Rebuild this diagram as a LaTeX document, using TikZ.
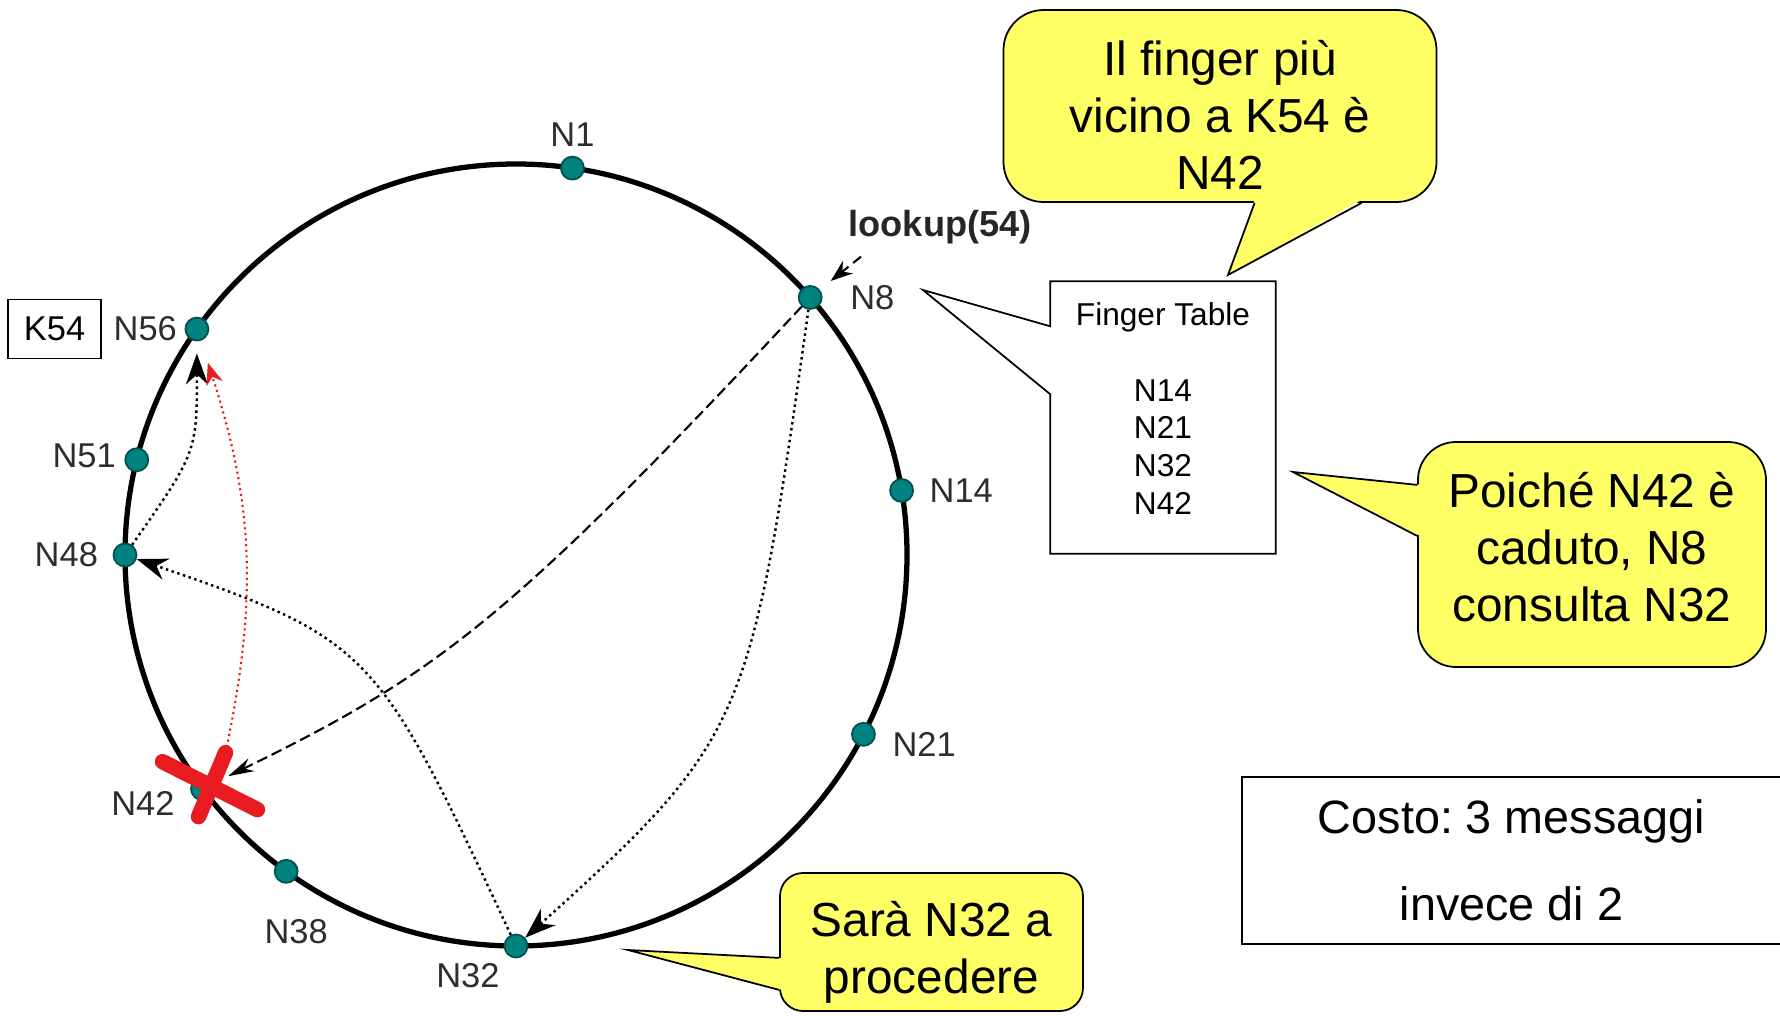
\documentclass[tikz,border=0pt]{standalone}
\usepackage{fontspec}
\setmainfont{Liberation Sans}
\frenchspacing
\usetikzlibrary{arrows.meta,positioning,calc}
\definecolor{verdeacqua}{RGB}{0,130,128}
\definecolor{verdescuro}{RGB}{0,80,78}
\definecolor{giallo}{RGB}{255,255,102}
\definecolor{rosso}{RGB}{232,28,32}
\definecolor{grigio}{RGB}{45,45,45}

\begin{document}
\begin{tikzpicture}[>={Stealth[length=3.1mm,width=2.2mm]},
    peer/.style={circle,fill=verdeacqua,draw=verdescuro,line width=0.5pt,inner sep=0pt,minimum size=2.3mm},
    etich/.style={font=\fontsize{9.8}{11}\selectfont,text=grigio,inner sep=0pt},
    fumetto/.style={draw=black,line width=0.5pt,fill=giallo,inner sep=0pt},
    testo/.style={align=center,font=\fontsize{13.6}{16.2}\selectfont,inner sep=0pt},
    salto/.style={densely dotted,line width=0.7pt,->}]
  \useasboundingbox (0,0) rectangle (17.8,10.15);
  % anello
  \coordinate (c) at (5.16,4.60);
  \draw[line width=1.5pt] (c) circle (3.91);
  \foreach \id/\a in {1/81.7,8/41.2,14/9.5,21/-27.3,32/-90,38/-126,42/-143.3,48/180,51/165.9,56/144.7}
    \node[peer] (n\id) at ($(c)+(\a:3.91)$) {};
  \node[etich,above=0.9mm of n1] (l1) {N1};
  \node[etich,right=2.7mm of n8] (l8) {N8};
  \node[etich,right=1.5mm of n14] (l14) {N14};
  \node[etich,right=1.6mm of n21,yshift=-1mm] (l21) {N21};
  \node[etich,below left=0.8mm and 0.7mm of n32] (l32) {N32};
  \node[etich,below=3.5mm of n38,xshift=1mm] (l38) {N38};
  \node[etich,left=1.5mm of n42,yshift=-1.5mm] (l42) {N42};
  \node[etich,left=1.4mm of n48] (l48) {N48};
  \node[etich,left=0.8mm of n51,yshift=0.4mm] (l51) {N51};
  \node[etich,left=0.7mm of n56] (l56) {N56};
  \node[etich,draw=black,line width=0.5pt,text=black,minimum width=9.3mm,minimum height=5.9mm,left=1.1mm of l56] (k54) {K54};
  \node[etich,font=\bfseries\fontsize{10.3}{12}\selectfont,text=black!85,above right=4.4mm and 2.9mm of n8] (look) {lookup(54)};
  \coordinate (lookda) at ([shift={(1.3mm,-1.2mm)}]look.south west);
  \draw[line width=0.6pt,dash pattern=on 1mm off 0.6mm,->,>={Stealth[length=2.2mm,width=1.6mm]},shorten >=1.4mm] (lookda) -- (n8);
  % salti della lookup
  \draw[line width=0.6pt,dash pattern=on 1.1mm off 0.5mm,->,>={Stealth[length=2.6mm,width=1.4mm]},shorten >=1.6mm] (n8) .. controls +(227:4.4) and +(26:2.6) .. (n42);
  \draw[salto] (n8) .. controls +(262:4.3) and +(42:3.1) .. (n32);
  \draw[salto] (n32) .. controls +(115:3.3) and +(-19:2.6) .. (n48);
  \draw[salto,shorten >=1.2mm] (n48) .. controls +(55:1.25) and +(-90:1.23) .. (n56);
  % N42 caduto
  \coordinate (xa1) at ($(n42)+(-0.40,0.27)$);
  \coordinate (xa2) at ($(n42)+(0.55,-0.21)$);
  \coordinate (xb1) at ($(n42)+(0.23,0.36)$);
  \coordinate (xb2) at ($(n42)+(-0.04,-0.28)$);
  \draw[salto,rosso,line width=0.6pt,>={Stealth[length=2.2mm,width=1.7mm]},shorten >=2.3mm] (xb1) .. controls +(78:1.6) and +(-72:1.8) .. (n56);
  \draw[rosso,line width=4.4pt,line cap=round] (xa1) -- (xa2) (xb1) -- (xb2);
  % finger table
  \node[minimum width=2.24cm,minimum height=2.71cm,inner sep=0pt] (tabella) at (11.63,5.975) {};
  \node[align=center,font=\fontsize{9}{10.8}\selectfont,inner sep=0pt] (ttab) at ([yshift=0.9mm]tabella.center) {Finger Table\\[3.8mm]N14\\N21\\N32\\N42};
  \coordinate (puntaft) at (9.23,7.25);
  \draw[line width=0.5pt] (tabella.north west) -- ([yshift=-4.5mm]tabella.north west) -- (puntaft) -- ([yshift=-11.3mm]tabella.north west) -- (tabella.south west) -- (tabella.south east) -- (tabella.north east) -- cycle;
  % fumetti
  \node[fumetto,rounded corners=4mm,minimum width=4.33cm,minimum height=1.92cm] (fum1) at (12.20,9.09) {};
  \node[testo] (t1) at ([yshift=-0.9mm]fum1.center) {Il finger più\\vicino a K54 è\\N42};
  \coordinate (punta1) at (12.28,7.40);
  \fill[giallo] ([xshift=25.2mm,yshift=0.3mm]fum1.south west) -- (punta1) -- ([xshift=35.9mm,yshift=0.3mm]fum1.south west) -- cycle;
  \draw[line width=0.5pt] ([xshift=25.2mm]fum1.south west) -- (punta1) -- ([xshift=35.9mm]fum1.south west);
  \node[fumetto,rounded corners=3.8mm,minimum width=3.48cm,minimum height=2.25cm] (fum2) at (15.92,4.605) {};
  \node[testo] (t2) at ([yshift=0.7mm]fum2.center) {Poiché N42 è\\caduto, N8\\consulta N32};
  \coordinate (punta2) at (12.93,5.43);
  \fill[giallo] ([xshift=0.3mm,yshift=18.3mm]fum2.south west) -- (punta2) -- ([xshift=0.3mm,yshift=13.2mm]fum2.south west) -- cycle;
  \draw[line width=0.5pt] ([yshift=18.3mm]fum2.south west) -- (punta2) -- ([yshift=13.2mm]fum2.south west);
  \node[fumetto,rounded corners=2.3mm,minimum width=3.03cm,minimum height=1.38cm] (fum3) at (9.315,0.73) {};
  \node[testo] (t3) at ([yshift=-1mm]fum3.center) {Sarà N32 a\\procedere};
  \coordinate (punta3) at (6.28,0.65);
  \fill[giallo] ([xshift=0.3mm,yshift=5.4mm]fum3.south west) -- (punta3) -- ([xshift=0.3mm,yshift=2.2mm]fum3.south west) -- cycle;
  \draw[line width=0.5pt] ([yshift=5.4mm]fum3.south west) -- (punta3) -- ([yshift=2.2mm]fum3.south west);
  % costo
  \node[minimum width=5.37cm,minimum height=1.65cm,align=center,font=\fontsize{13.3}{24.7}\selectfont,inner sep=0pt] (costo) at (15.115,1.545) {Costo: 3 messaggi\\invece di 2};
  \draw[line width=0.5pt] (costo.north east) -- (costo.north west) -- (costo.south west) -- (costo.south east);
\end{tikzpicture}
\end{document}
